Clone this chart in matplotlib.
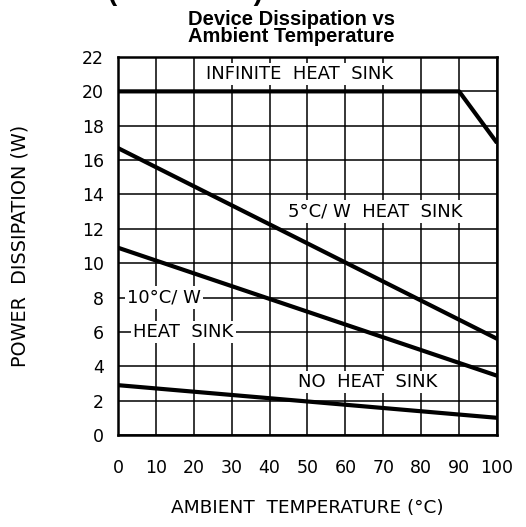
import matplotlib.pyplot as plt
import numpy as np

# Curvas de disipación (W) vs temperatura ambiente (°C)
temp_inf = [0, 90, 100]
p_inf = [20, 20, 17]
temp = [0, 100]
p_5cw = [16.7, 5.6]
p_10cw = [10.9, 3.45]
p_nosink = [2.9, 1.0]

x_ticks = list(range(0, 101, 10))
y_ticks = list(range(0, 23, 2))

fuente = "DejaVu Sans"
fs = 12.5

fig = plt.figure(figsize=(5.26, 5.27), dpi=100)
ax = fig.add_axes([0.2243, 0.1746, 0.7206, 0.7172])

lw = 3.0
ax.plot(temp_inf, p_inf, color="black", lw=lw, solid_capstyle="butt", zorder=4)
ax.plot(temp, p_5cw, color="black", lw=lw, zorder=4)
ax.plot(temp, p_10cw, color="black", lw=lw, zorder=4)
ax.plot(temp, p_nosink, color="black", lw=lw, zorder=4)

ax.set_xlim(0, 100)
ax.set_ylim(0, 22)
ax.set_xticks(x_ticks)
ax.set_yticks(y_ticks)
ax.grid(True, color="black", lw=1.1)
ax.tick_params(length=0, labelsize=fs)
ax.tick_params(axis="x", pad=17)
ax.tick_params(axis="y", pad=10)
for lab in ax.get_xticklabels() + ax.get_yticklabels():
    lab.set_family(fuente)
for s in ax.spines.values():
    s.set_linewidth(1.8)

ax.set_xlabel("AMBIENT  TEMPERATURE (°C)", fontsize=13.3, family=fuente, labelpad=16)
ax.set_ylabel("POWER  DISSIPATION (W)", fontsize=13.8, family=fuente, labelpad=38)

box = dict(facecolor="white", edgecolor="none", pad=1.5)
txt = dict(fontsize=13, family=fuente, va="center", bbox=box, zorder=3)
ax.text(47.8, 21, "INFINITE  HEAT  SINK", ha="center", **txt)
ax.text(68, 13, "5°C/ W  HEAT  SINK", ha="center", **txt)
ax.text(66, 3.1, "NO  HEAT  SINK", ha="center", **txt)
ax.text(2.4, 8, "10°C/ W", ha="left", **txt)
ax.text(4.0, 6, "HEAT  SINK", ha="left", **txt)

fig.text(186 / 526, 1.0, "(Continued)", ha="center", va="baseline",
         fontsize=20, fontweight="bold", family="Liberation Sans")
fig.text(291 / 526, 1 - 28 / 527, "Device Dissipation vs\nAmbient Temperature",
         ha="center", va="center", fontsize=14.5, fontweight="bold",
         family="Liberation Sans", linespacing=0.9)

fig.savefig("out.png", dpi=100)
